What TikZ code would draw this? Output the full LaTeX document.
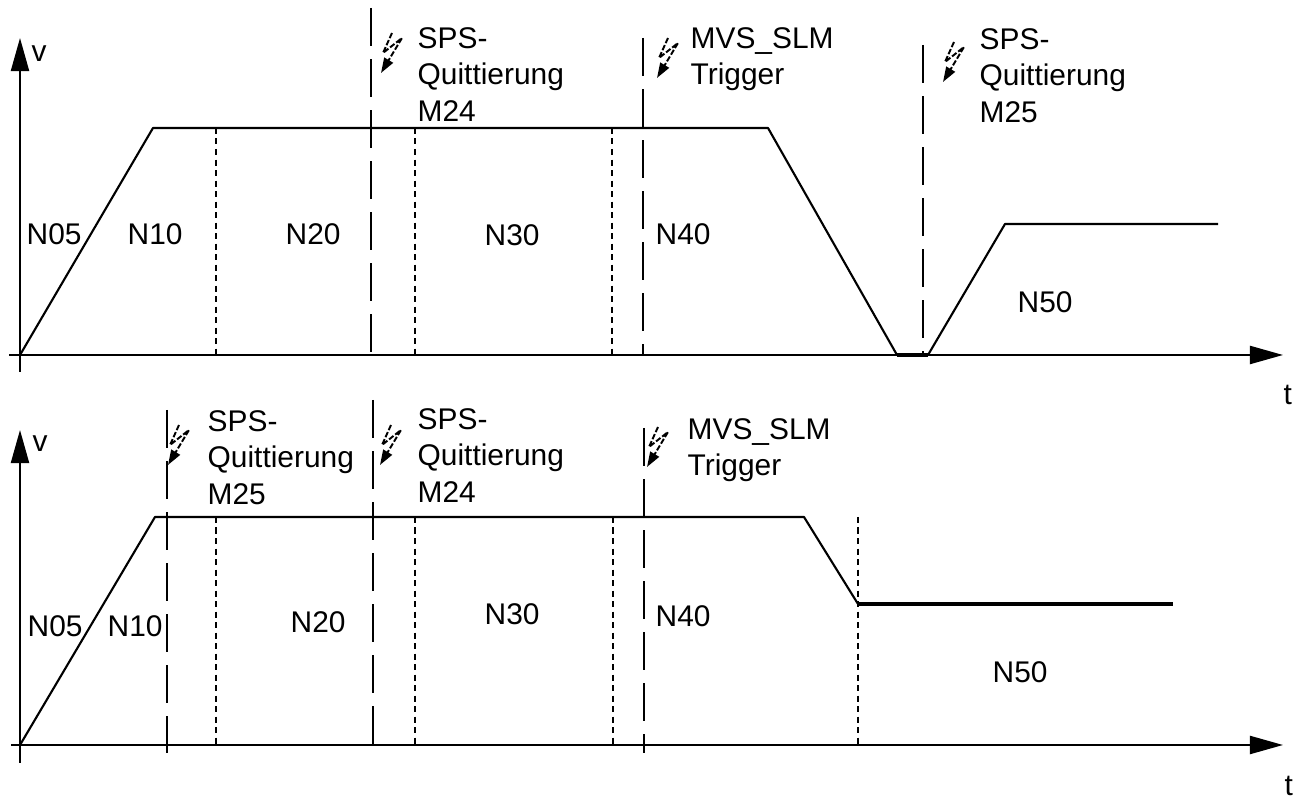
\documentclass[tikz,border=0pt]{standalone}
\usepackage{fontspec}
\setmainfont{Liberation Sans}
\usetikzlibrary{arrows.meta}

\begin{document}
\begin{tikzpicture}[
        x=0.01cm, y=-0.01cm,
        axis/.style={line width=0.6pt, -{Triangle[length=0.33cm,width=0.18cm]}},
        profile/.style={line width=0.6pt, line join=round},
        endprofile/.style={line width=1.2pt},
        marker/.style={line width=0.6pt, dash pattern=on 0.38cm off 0.13cm},
        block/.style={line width=0.6pt, dash pattern=on 0.06cm off 0.045cm},
        boltline/.style={line width=0.55pt, dash pattern=on 1.6pt off 0.6pt,
            -{Triangle[length=0.15cm,width=0.1cm]}},
        lbl/.style={inner sep=0pt, font=\fontsize{8.5}{10.35}\selectfont},
        seg/.style={lbl, anchor=base west},
        event/.style={lbl, anchor=north west, align=left},
        blitz/.pic={\draw[boltline] (11,-40) -- (2,-20) -- (21,-35) -- (0,0);}
    ]
    \useasboundingbox (0,0) rectangle (1309,798);

    % Top: axes
    \coordinate (o1) at (20,355);
    \draw[axis] (20,372) -- (20,38);
    \draw[axis] (9,355) -- (1283,355);
    \node[seg] (v1) at (31,62) {v};
    \node[seg] (t1) at (1283,405) {t};

    % Top: speed profile
    \draw[profile] (o1) -- (153,128) -- (768,128) -- (897,355) -- (928,355)
        -- (1005,224) -- (1218,224);
    \draw[endprofile] (897,355) -- (928,355);

    % Top: block borders and events
    \foreach \x in {216,415,612}
        \draw[block] (\x,128) -- (\x,355);
    \draw[marker] (371,8) -- (371,355);
    \draw[marker] (643,38) -- (643,355);
    \draw[marker] (923,45) -- (923,355);
    \pic (b11) at (381,73) {blitz};
    \pic (b12) at (657,78) {blitz};
    \pic (b13) at (943,82) {blitz};

    \node[event] (e11) at (417,27) {SPS-\\Quittierung\\M24};
    \node[event] (e12) at (690,27) {MVS\_SLM\\Trigger};
    \node[event] (e13) at (979,28) {SPS-\\Quittierung\\M25};

    \node[seg] (n105) at (26,245) {N05};
    \node[seg] (n110) at (127,245) {N10};
    \node[seg] (n120) at (285,245) {N20};
    \node[seg] (n130) at (484,246) {N30};
    \node[seg] (n140) at (655,245) {N40};
    \node[seg] (n150) at (1017,313) {N50};

    % Bottom: axes
    \coordinate (o2) at (20,745);
    \draw[axis] (20,763) -- (20,430);
    \draw[axis] (11,745) -- (1283,745);
    \node[seg] (v2) at (32,452) {v};
    \node[seg] (t2) at (1284,796) {t};

    % Bottom: speed profile
    \draw[profile] (o2) -- (155,517) -- (804,517) -- (858,604);
    \draw[endprofile] (858,604) -- (1173,604);

    % Bottom: block borders and events
    \foreach \x in {216,415,613,858}
        \draw[block] (\x,517) -- (\x,745);
    \draw[marker] (167,410) -- (167,753);
    \draw[marker] (373,400) -- (373,747);
    \draw[marker] (644,428) -- (644,753);
    \pic (b21) at (168,465) {blitz};
    \pic (b22) at (380,465) {blitz};
    \pic (b23) at (647,467) {blitz};

    \node[event] (e21) at (207,410) {SPS-\\Quittierung\\M25};
    \node[event] (e22) at (417,408) {SPS-\\Quittierung\\M24};
    \node[event] (e23) at (687,418) {MVS\_SLM\\Trigger};

    \node[seg] (n205) at (27,637) {N05};
    \node[seg] (n210) at (107,637) {N10};
    \node[seg] (n220) at (290,633) {N20};
    \node[seg] (n230) at (484,625) {N30};
    \node[seg] (n240) at (655,627) {N40};
    \node[seg] (n250) at (992,683) {N50};
\end{tikzpicture}
\end{document}
